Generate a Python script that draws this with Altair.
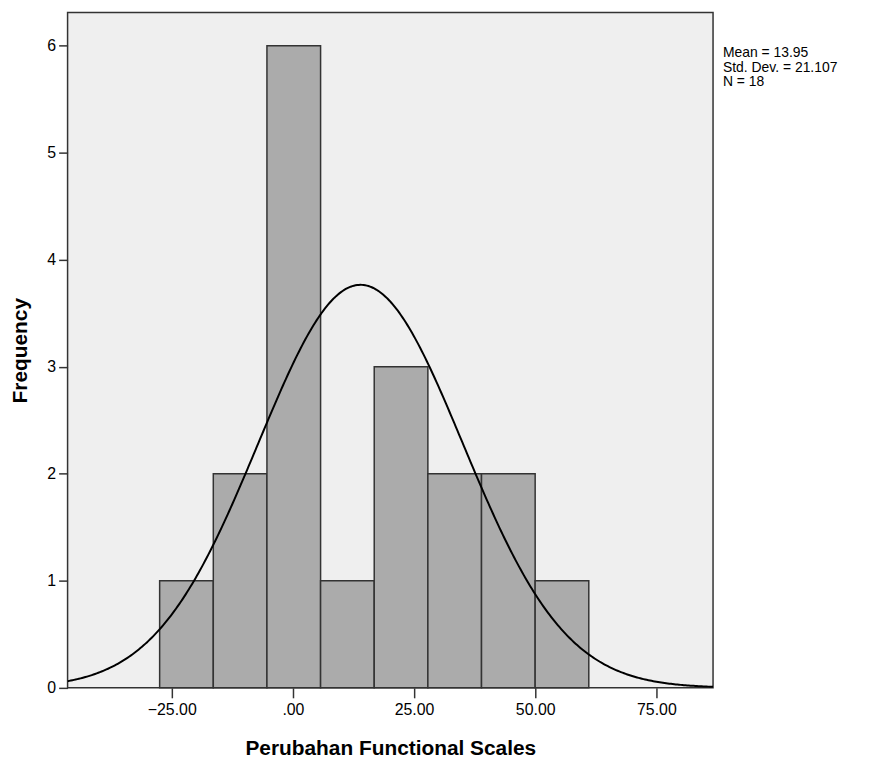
import altair as alt
import numpy as np
import pandas as pd

# Histogram data
bin_edges = [-27.5, -16.43, -5.36, 5.71, 16.78, 27.85, 38.92, 49.99, 61.06]
counts = [1, 2, 6, 1, 3, 2, 2, 1]

# Summary statistics shown in the chart
mean = 13.95
std_dev = 21.107
n_obs = 18
stat_lines = ["Mean = 13.95", "Std. Dev. = 21.107", "N = 18"]

x_ticks = [-25, 0, 25, 50, 75]
y_ticks = [0, 1, 2, 3, 4, 5, 6]
x_domain = [-46.5, 86.7]
y_domain = [0, 6.31]

W, H = 650, 680
FONT = "Liberation Sans"

bars = pd.DataFrame({
    "start": bin_edges[:-1],
    "end": bin_edges[1:],
    "count": counts,
})

# Fitted normal curve from the displayed mean / sd, scaled to the histogram
bw = bin_edges[1] - bin_edges[0]
xs = np.linspace(x_domain[0], x_domain[1], 400)
ys = n_obs * bw * np.exp(-0.5 * ((xs - mean) / std_dev) ** 2) / (std_dev * np.sqrt(2 * np.pi))
curve = pd.DataFrame({"x": xs, "y": ys})

xscale = alt.Scale(domain=x_domain, nice=False, zero=False)
yscale = alt.Scale(domain=y_domain, nice=False)

x_axis = alt.Axis(
    values=x_ticks, title="Perubahan Functional Scales",
    labelExpr="datum.value == 0 ? '.00' : format(datum.value, '.2f')",
    grid=False, domain=False, tickSize=10, tickWidth=1.5, tickColor="#333",
    labelFont=FONT, labelFontSize=16, labelColor="#000", labelPadding=4,
    titleFont=FONT, titleFontSize=21, titleFontWeight="bold", titleColor="#000",
    titlePadding=20,
)
y_axis = alt.Axis(
    values=y_ticks, title="Frequency", format="d",
    grid=False, domain=False, tickSize=9, tickWidth=1.5, tickColor="#333",
    labelFont=FONT, labelFontSize=16, labelColor="#000", labelPadding=3,
    titleFont=FONT, titleFontSize=21, titleFontWeight="bold", titleColor="#000",
    titlePadding=16,
)

bar_layer = alt.Chart(bars).mark_rect(
    fill="#ABABAB", stroke="#333", strokeWidth=1.5
).encode(
    x=alt.X("start:Q", scale=xscale, axis=x_axis),
    x2="end:Q",
    y=alt.Y("count:Q", scale=yscale, axis=y_axis),
    y2=alt.datum(0),
)

curve_layer = alt.Chart(curve).mark_line(
    color="#000", strokeWidth=2, clip=True
).encode(
    x=alt.X("x:Q", scale=xscale),
    y=alt.Y("y:Q", scale=yscale),
)

stats_text = alt.Chart(pd.DataFrame({"t": ["\n".join(stat_lines)]})).mark_text(
    align="left", baseline="alphabetic", font=FONT, fontSize=14, color="#000",
    lineBreak="\n", lineHeight=14.5,
).encode(
    x=alt.value(W + 10),
    y=alt.value(45),
    text="t:N",
)

chart = alt.layer(bar_layer, curve_layer, stats_text).properties(
    width=W, height=H,
    autosize=alt.AutoSizeParams(type="none"),
    padding={"left": 60, "top": 2, "right": 150, "bottom": 71},
    background="white",
).configure_view(
    fill="#EFEFEF", stroke="#333", strokeWidth=1.5
)

chart.save("out.html", embed_options={"renderer": "svg", "actions": False})
